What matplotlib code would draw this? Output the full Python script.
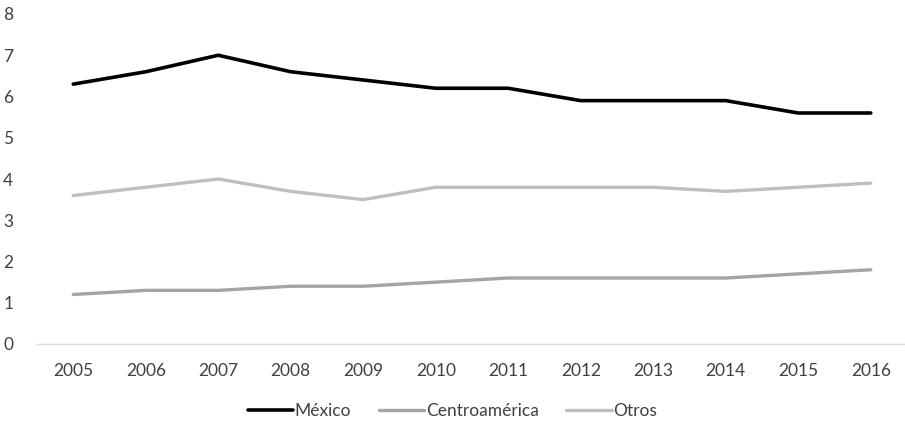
import matplotlib
matplotlib.use("Agg")
import matplotlib.pyplot as plt

years = ["2005", "2006", "2007", "2008", "2009", "2010",
         "2011", "2012", "2013", "2014", "2015", "2016"]
mexico = [6.3, 6.6, 7.0, 6.6, 6.4, 6.2, 6.2, 5.9, 5.9, 5.9, 5.6, 5.6]
centroamerica = [1.2, 1.3, 1.3, 1.4, 1.4, 1.5, 1.6, 1.6, 1.6, 1.6, 1.7, 1.8]
otros = [3.6, 3.8, 4.0, 3.7, 3.5, 3.8, 3.8, 3.8, 3.8, 3.7, 3.8, 3.9]

plt.rcParams["font.family"] = ["Lato", "DejaVu Sans"]

fig = plt.figure(figsize=(9.05, 4.24), dpi=100)
ax = fig.add_axes([37 / 905, 80 / 424, 870 / 905, 330 / 424])

x = range(len(years))
ax.plot(x, mexico, color="#000000", lw=2.6, label="México", solid_capstyle="round")
ax.plot(x, centroamerica, color="#a5a5a5", lw=2.4, label="Centroamérica", solid_capstyle="round")
ax.plot(x, otros, color="#bfbfbf", lw=2.4, label="Otros", solid_capstyle="round")

ax.set_xlim(-0.5, len(years) - 0.5)
ax.set_ylim(0, 8)
ax.set_xticks(list(x))
ax.set_xticklabels(years)
ax.set_yticks(range(0, 9))
ax.tick_params(length=0, labelsize=12.5, colors="#404040")
ax.tick_params(axis="y", pad=17)
ax.tick_params(axis="x", pad=14)

for side in ("top", "right", "left"):
    ax.spines[side].set_visible(False)
ax.spines["bottom"].set_color("#d9d9d9")
ax.spines["bottom"].set_linewidth(1)

leg = fig.legend(loc="center", bbox_to_anchor=(0.5, 13 / 424), ncol=3,
                 frameon=False, fontsize=12.5, handlelength=2.6,
                 handletextpad=0.1, columnspacing=1.6)
for t in leg.get_texts():
    t.set_color("#404040")

fig.savefig("out.png", dpi=100)
